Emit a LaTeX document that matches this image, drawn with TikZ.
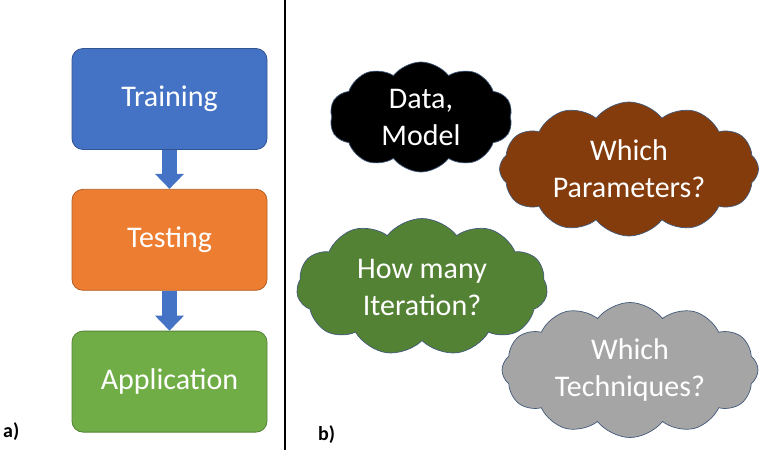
\documentclass[tikz,border=0pt]{standalone}
\usepackage{fontspec}
\setmainfont{Carlito}
\usetikzlibrary{arrows.meta,positioning,shapes.symbols}

\definecolor{trainblue}{HTML}{4472C4}
\definecolor{testorange}{HTML}{ED7D31}
\definecolor{appgreen}{HTML}{70AD47}
\definecolor{cloudbrown}{HTML}{843C0C}
\definecolor{cloudgreen}{HTML}{548235}
\definecolor{cloudgray}{HTML}{A5A5A5}
\definecolor{cloudedge}{HTML}{41597A}

\tikzset{
    stagebox/.style={
        draw=#1!75!black, fill=#1, line width=0.8pt,
        rounded corners=11pt,
        minimum width=195pt, minimum height=101pt,
        text=white, font=\fontsize{30}{36}\selectfont
    },
    flowarrow/.style={
        draw=trainblue, line width=15pt,
        -{Triangle[width=28pt,length=15pt]}
    },
    thought/.style={
        cloud, cloud ignores aspect, cloud puffs=11, cloud puff arc=105,
        draw=cloudedge, line width=0.7pt, fill=#1,
        text=white, align=center, inner sep=0pt,
        font=\fontsize{30}{37}\selectfont
    },
    panel/.style={font=\bfseries\fontsize{20}{20}\selectfont, anchor=base west, inner sep=0pt}
}

\begin{document}
\begin{tikzpicture}[x=1pt, y=-1pt]
    \useasboundingbox (0,0) rectangle (759,450);

    % a) workflow
    \node[stagebox=trainblue] (train) at (169.5,99) {Training};
    \node[stagebox=testorange, below=39pt of train] (test) {Testing};
    \node[stagebox=appgreen, below=40pt of test] (app) {Application};
    \draw[flowarrow] (train) -- (test);
    \draw[flowarrow] (test) -- (app);

    % divider
    \coordinate (divtop) at (285,0);
    \coordinate (divbot) at (285,450);
    \draw[line width=2pt] (divtop) -- (divbot);

    % b) open questions
    \node[thought=cloudbrown, minimum width=259pt, minimum height=134pt, cloud puffs=12] (params) at (629,169) {Which\\Parameters?};
    \node[thought=black, minimum width=183pt, minimum height=110pt, cloud puffs=10] (datamodel) at (421,117) {Data,\\Model};
    \node[thought=cloudgray, minimum width=256pt, minimum height=135pt, cloud puffs=12] (techn) at (630,370) {Which\\Techniques?};
    \node[thought=cloudgreen, minimum width=251pt, minimum height=137pt] (iter) at (422,287) {How many\\Iteration?};

    \node[panel] (lbla) at (3,437) {a)};
    \node[panel] (lblb) at (318,440) {b)};
\end{tikzpicture}
\end{document}
